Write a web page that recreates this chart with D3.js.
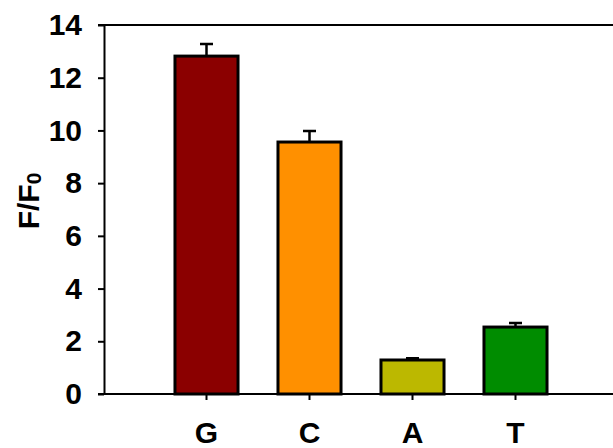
<!DOCTYPE html>
<html>
<head>
<meta charset="utf-8">
<script src="https://cdn.jsdelivr.net/npm/d3@7"></script>
<style>
    body { margin: 0; background: #fff; }
    svg { display: block; }
</style>
</head>
<body>
<svg id="chart" width="613" height="448"></svg>
<script>
const bases = ["G", "C", "A", "T"];
const ratios = [12.82, 9.56, 1.29, 2.54];
const errors = [0.46, 0.42, 0.07, 0.15];
const barColors = ["#8b0000", "#ff9000", "#bcb800", "#008c00"];
const yTicks = [0, 2, 4, 6, 8, 10, 12, 14];

const font = "Arial, 'Liberation Sans', sans-serif";
const margin = {top: 25, left: 104};
const width = 515;
const height = 369;

const svg = d3.select("#chart");
const chart = svg.append("g")
    .attr("transform", `translate(${margin.left}, ${margin.top})`);

const xScale = d3.scaleBand()
    .domain(bases)
    .range([51, 463])
    .paddingInner(0.388)
    .paddingOuter(0.194);
const yScale = d3.scaleLinear()
    .domain([0, 14])
    .range([height, 0]);

const data = bases.map((b, i) => ({
    base: b,
    value: ratios[i],
    err: errors[i],
    color: barColors[i]
}));

// bars
chart.selectAll(".bar")
    .data(data)
    .enter().append("rect")
    .attr("class", "bar")
    .attr("x", d => xScale(d.base))
    .attr("y", d => yScale(d.value))
    .attr("width", xScale.bandwidth())
    .attr("height", d => height - yScale(d.value))
    .style("fill", d => d.color)
    .style("stroke", "#000")
    .style("stroke-width", 3);

// error bars
const cx = d => xScale(d.base) + xScale.bandwidth() / 2;
chart.selectAll(".err")
    .data(data)
    .enter().append("path")
    .attr("class", "err")
    .attr("d", d => `M${cx(d)},${yScale(d.value)}V${yScale(d.value + d.err)}` +
        `M${cx(d) - 6.5},${yScale(d.value + d.err)}H${cx(d) + 6.5}`)
    .style("fill", "none")
    .style("stroke", "#000")
    .style("stroke-width", 2.5);

// frame
chart.append("path")
    .attr("d", `M-6,0H${width}M-6,${height}H${width}`)
    .style("stroke", "#000")
    .style("stroke-width", 2);

const yAxis = d3.axisLeft(yScale)
    .tickValues(yTicks)
    .tickSize(6)
    .tickSizeOuter(0)
    .tickPadding(16);
const gy = chart.append("g").call(yAxis)
    .attr("font-family", font)
    .attr("font-size", 30)
    .attr("font-weight", "bold");
gy.select(".domain").style("stroke-width", 2);
gy.selectAll(".tick line").style("stroke-width", 2);
gy.selectAll(".tick text").attr("fill", "#000");

const xAxis = d3.axisBottom(xScale)
    .tickSize(6)
    .tickSizeOuter(0)
    .tickPadding(22);
const gx = chart.append("g")
    .attr("transform", `translate(0, ${height})`)
    .call(xAxis)
    .attr("font-family", font)
    .attr("font-size", 30)
    .attr("font-weight", "bold");
gx.select(".domain").remove();
gx.selectAll(".tick line").style("stroke-width", 2);
gx.selectAll(".tick text").attr("fill", "#000");

// y label F/F0
const ylab = svg.append("text")
    .attr("transform", "translate(39, 201) rotate(-90)")
    .attr("text-anchor", "middle")
    .attr("font-family", font)
    .attr("font-size", 30)
    .attr("font-weight", "bold");
ylab.append("tspan").text("F/F");
ylab.append("tspan")
    .attr("font-size", 21)
    .attr("dy", 2)
    .text("0");
</script>
</body>
</html>
